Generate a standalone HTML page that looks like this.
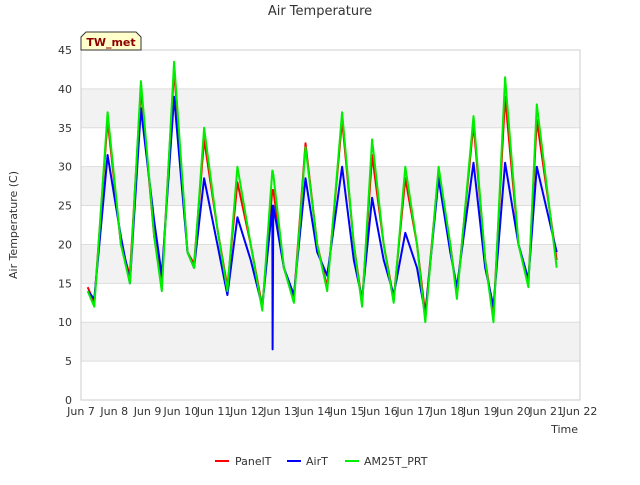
<!DOCTYPE html>
<html><head><meta charset="utf-8"><style>
body{margin:0;background:#fff;font-family:"Liberation Sans","DejaVu Sans",sans-serif}
svg text{font-family:"DejaVu Sans","Liberation Sans",sans-serif}
</style></head><body>
<svg id="c" width="640" height="480" viewBox="0 0 640 480">
<text x="320" y="15" text-anchor="middle" font-size="13" fill="#333">Air Temperature</text>
<g id="bands"></g><g id="grid"></g>
<rect x="81" y="50" width="499" height="350" fill="none" stroke="#ccc"/>
<g id="yt"></g><g id="xt"></g><g id="series"></g>
<text transform="translate(17,225) rotate(-90)" text-anchor="middle" font-size="11" fill="#333">Air Temperature (C)</text>
<text x="578" y="433" text-anchor="end" font-size="11" fill="#333">Time</text>
<g><path d="M81,50 L81,37 L86,32 L136,32 L141,37 L141,50 Z" fill="#ffffcc" stroke="#333"/>
<text x="111" y="46" text-anchor="middle" font-size="11" font-weight="bold" fill="#8b0000">TW_met</text></g>
<g>
<g><line x1="215" y1="461" x2="229" y2="461" stroke="#f00" stroke-width="2"/><text x="235" y="465" font-size="11" fill="#333">PanelT</text></g>
<g><line x1="287" y1="461" x2="301" y2="461" stroke="#00f" stroke-width="2"/><text x="306" y="465" font-size="11" fill="#333">AirT</text></g>
<g><line x1="345" y1="461" x2="359" y2="461" stroke="#0e0" stroke-width="2"/><text x="364" y="465" font-size="11" fill="#333">AM25T_PRT</text></g>
</g>
</svg>
<script>
const times=[7.2,7.4,7.8,8.2,8.47,8.8,9.2,9.43,9.8,10.2,10.4,10.7,11.1,11.4,11.7,12.1,12.45,12.75,12.76,12.78,13.1,13.4,13.75,14.1,14.4,14.85,15.2,15.45,15.75,16.1,16.4,16.75,17.1,17.35,17.75,18.1,18.3,18.8,19.15,19.4,19.75,20.15,20.45,20.7,21.3];
const panelT=[14.5,12.5,36,20,16,40,21,15,42.5,19,17.5,33.5,22,14.5,28,20,12,27,27,27,17,13,33,20,14.5,36,20,12.5,31.5,20,13,28.5,20,11,29.5,20,13.5,35.5,18,11,39,20,15,36,18];
const airT=[14,13,31.5,21,15,37.5,23,16,39,19,17,28.5,20,13.5,23.5,18,12,25,6.5,25,17,13.5,28.5,19,16,30,18,13,26,18,13.5,21.5,17,11,28.5,19,14.5,30.5,17,12,30.5,20,15.5,30,19];
const am25t=[14,12,37,20,15,41,21,14,43.5,19,17,35,22,14,30,20,11.5,29.5,29.5,29,17,12.5,32.5,20,14,37,20,12,33.5,20,12.5,30,20,10,30,20,13,36.5,18,10,41.5,20,14.5,38,17];
const yTicks=[0,5,10,15,20,25,30,35,40,45];
const xTicks=[7,8,9,10,11,12,13,14,15,16,17,18,19,20,21,22];
const NS='http://www.w3.org/2000/svg';
const X=d=>81+(d-7)*(499/15), Y=v=>400-v*(350/45);
function mk(t,a,p){const e=document.createElementNS(NS,t);for(const k in a)e.setAttribute(k,a[k]);p.appendChild(e);return e;}
const bands=document.getElementById('bands'),grid=document.getElementById('grid'),yt=document.getElementById('yt'),xt=document.getElementById('xt'),ser=document.getElementById('series');
for(let i=0;i<yTicks.length-1;i++){if(i%2===1){const r=mk('rect',{x:81,y:Y(yTicks[i+1]),width:499,height:Y(yTicks[i])-Y(yTicks[i+1]),fill:'#f2f2f2'},bands);

}}
yTicks.forEach(v=>{const l=mk('line',{x1:81,x2:580,y1:Y(v),y2:Y(v),stroke:'#ddd'},grid);


const t=mk('text',{x:72,y:Y(v)+4,'text-anchor':'end','font-size':11,fill:'#333'},yt);t.textContent=v;

});
xTicks.forEach(d=>{const t=mk('text',{x:X(d),y:415,'text-anchor':'middle','font-size':11,fill:'#333'},xt);t.textContent='Jun '+d;

});
[[panelT,'#f00','panelt-line'],[airT,'#00f','airt-line'],[am25t,'#0e0','am25t-prt-line']].forEach(([s,c,n])=>{
const p=mk('polyline',{points:times.map((d,i)=>X(d).toFixed(1)+','+Y(s[i]).toFixed(1)).join(' '),fill:'none',stroke:c,'stroke-width':2,'stroke-linejoin':'round'},ser);

});
</script>
</body></html>
